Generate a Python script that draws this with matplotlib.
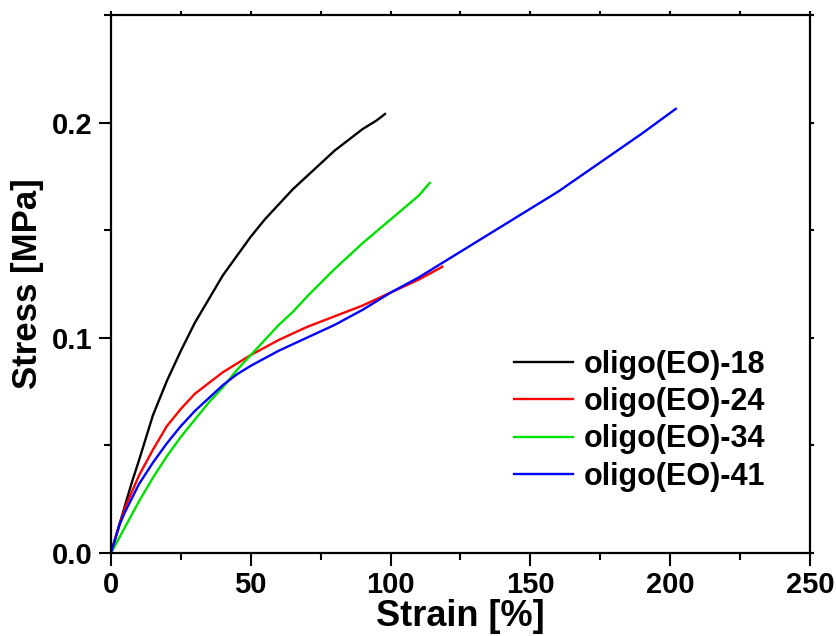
import matplotlib
matplotlib.use('Agg')
from matplotlib import pyplot as plt
from matplotlib.ticker import MultipleLocator

plt.rcParams['font.family'] = ['Liberation Sans', 'DejaVu Sans']
plt.rcParams['font.weight'] = 'bold'

labels = ['oligo(EO)-18', 'oligo(EO)-24', 'oligo(EO)-34', 'oligo(EO)-41']
colors = ['#000000', '#ff0000', '#00e000', '#0000ff']

strain_18 = [0, 2.5, 5, 7.5, 10, 15, 20, 25, 30, 35, 40, 45, 50, 55, 60, 65, 70, 75, 80, 85, 90, 95, 98]
stress_18 = [0, 0.011, 0.022, 0.033, 0.043, 0.064, 0.080, 0.094, 0.107, 0.118, 0.129, 0.138, 0.147,
             0.155, 0.162, 0.169, 0.175, 0.181, 0.187, 0.192, 0.197, 0.201, 0.204]

strain_24 = [0, 2, 5, 10, 15, 20, 25, 30, 35, 40, 45, 50, 60, 70, 80, 90, 100, 110, 118.5]
stress_24 = [0, 0.009, 0.021, 0.036, 0.048, 0.059, 0.067, 0.074, 0.079, 0.084, 0.088, 0.092,
             0.099, 0.105, 0.110, 0.115, 0.121, 0.127, 0.133]

strain_34 = [0, 5, 10, 15, 20, 25, 30, 35, 40, 45, 50, 55, 60, 65, 70, 80, 90, 100, 110, 114]
stress_34 = [0, 0.012, 0.024, 0.035, 0.045, 0.054, 0.062, 0.070, 0.077, 0.085, 0.092, 0.099,
             0.106, 0.112, 0.119, 0.132, 0.144, 0.155, 0.166, 0.172]

strain_41 = [0, 3, 5, 10, 15, 20, 25, 30, 35, 40, 45, 50, 60, 70, 80, 90, 100, 110, 120, 130,
             140, 150, 160, 170, 180, 190, 202]
stress_41 = [0, 0.013, 0.019, 0.032, 0.042, 0.051, 0.059, 0.066, 0.072, 0.078, 0.083, 0.087,
             0.094, 0.100, 0.106, 0.113, 0.121, 0.128, 0.136, 0.144, 0.152, 0.160, 0.168,
             0.177, 0.186, 0.195, 0.2064]

fig = plt.figure(figsize=(8.37, 6.36), dpi=100)
ax = fig.add_axes([0.1326, 0.1305, 0.8351, 0.8459])

series = [(strain_18, stress_18), (strain_24, stress_24), (strain_34, stress_34), (strain_41, stress_41)]
for (x, y), lab, c in zip(series, labels, colors):
    ax.plot(x, y, color=c, lw=1.7, label=lab, solid_joinstyle='round')

ax.set_xlim(0, 250)
ax.set_ylim(0, 0.25)
ax.xaxis.set_major_locator(MultipleLocator(50))
ax.xaxis.set_minor_locator(MultipleLocator(25))
ax.yaxis.set_major_locator(MultipleLocator(0.1))
ax.yaxis.set_minor_locator(MultipleLocator(0.05))
ax.tick_params(which='major', direction='out', length=9, width=1.5, labelsize=21, pad=4)
ax.tick_params(which='minor', direction='out', length=5, width=1.5)
ax.tick_params(which='both', top=True, right=True)
for t in ax.xaxis.get_major_ticks() + ax.xaxis.get_minor_ticks():
    t.tick2line.set_markersize(3)
for t in ax.yaxis.get_major_ticks() + ax.yaxis.get_minor_ticks():
    t.tick2line.set_markersize(3)
for s in ax.spines.values():
    s.set_linewidth(1.6)

ax.set_xlabel('Strain [%]', fontsize=26, fontweight='bold', labelpad=0)
ax.set_ylabel('Stress [MPa]', fontsize=25, fontweight='bold', labelpad=6)

leg = ax.legend(loc='upper left', bbox_to_anchor=(0.576, 0.378), frameon=False,
                fontsize=22, handlelength=1.95, handletextpad=0.36, labelspacing=0.24,
                borderaxespad=0, borderpad=0)
for line in leg.get_lines():
    line.set_linewidth(1.7)

fig.savefig('out.png', dpi=100)
